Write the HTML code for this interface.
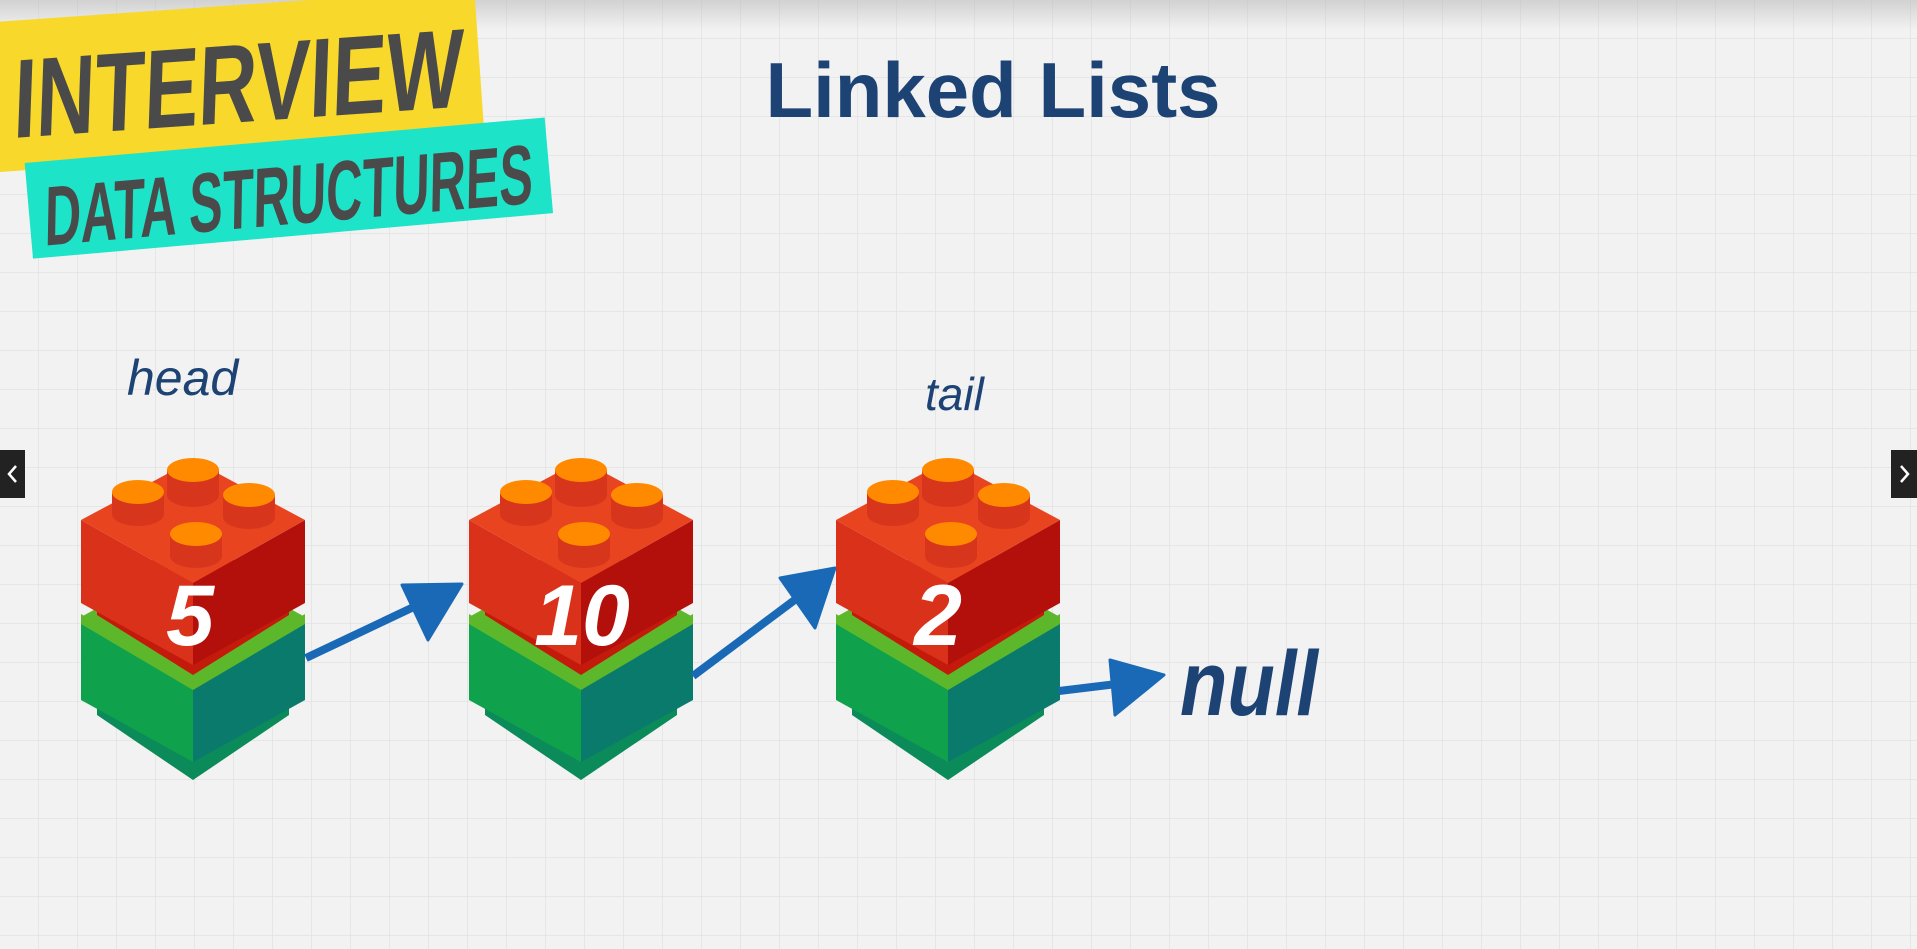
<!DOCTYPE html>
<html><head><meta charset="utf-8"><style>
html,body{margin:0;padding:0;width:1917px;height:949px;overflow:hidden;background:#f1f1f1}
</style></head><body>
<svg width="1917" height="949" viewBox="0 0 1917 949" xmlns="http://www.w3.org/2000/svg">
<defs>
<pattern id="g" width="39" height="39" patternUnits="userSpaceOnUse">
<rect width="39" height="39" fill="#f2f2f2"/>
<path d="M39 0V39H0" fill="none" stroke="#e2e2e2" stroke-width="1.5"/>
</pattern>
<linearGradient id="top" x1="0" y1="0" x2="0" y2="1"><stop offset="0" stop-color="#bbb" stop-opacity=".6"/><stop offset="1" stop-color="#bbb" stop-opacity="0"/></linearGradient>
<g id="brick">
<polygon points="-96,650 -96,715 0,780 96,715 96,650" fill="#0b8a5a"/>
<polygon points="-112,617 0,683 0,762 -112,700" fill="#10a14c"/>
<polygon points="112,617 0,683 0,762 112,700" fill="#0a7a6c"/>
<polygon points="-112,617 0,555 112,617 0,683" fill="#5cb82a"/>
<polygon points="-112,614 0,680 112,614 112,624 0,690 -112,624" fill="#5cb82a"/>
<polygon points="-96,560 -96,615 0,675 96,615 96,560" fill="#c41a0c"/>
<polygon points="-112,520 0,583 0,665 -112,603" fill="#da321a"/>
<polygon points="112,520 0,583 0,665 112,603" fill="#b3100c"/>
<polygon points="-112,520 0,460 112,520 0,583" fill="#e84420"/>
<g fill="#d8361c"><rect x="-26" y="470" width="52" height="25"/><ellipse cx="0" cy="495" rx="26" ry="12"/></g>
<ellipse cx="0" cy="470" rx="26" ry="12" fill="#ff8a00"/>
<g fill="#d8361c"><rect x="-81" y="492" width="52" height="22"/><ellipse cx="-55" cy="514" rx="26" ry="12"/></g>
<ellipse cx="-55" cy="492" rx="26" ry="12" fill="#ff8a00"/>
<g fill="#d8361c"><rect x="30" y="495" width="52" height="22"/><ellipse cx="56" cy="517" rx="26" ry="12"/></g>
<ellipse cx="56" cy="495" rx="26" ry="12" fill="#ff8a00"/>
<g fill="#d8361c"><rect x="-23" y="534" width="52" height="22"/><ellipse cx="3" cy="556" rx="26" ry="12"/></g>
<ellipse cx="3" cy="534" rx="26" ry="12" fill="#ff8a00"/>
</g>
</defs>
<rect width="1917" height="949" fill="url(#g)"/>
<rect width="1917" height="30" fill="url(#top)"/>

<g transform="rotate(-4 240 80)">
<rect x="-20" y="5" width="500" height="150" fill="#f8d82a"/>
<text x="12" y="122" font-family="'Liberation Sans Narrow','Liberation Sans',sans-serif" font-weight="bold" font-size="112" fill="#4a4a4a" textLength="450" lengthAdjust="spacingAndGlyphs" transform="skewX(-6) translate(10 0)">INTERVIEW</text>
</g>
<g transform="rotate(-5 290 190)">
<rect x="28" y="140" width="522" height="96" fill="#1de3c9"/>
<text x="42" y="224" font-family="'Liberation Sans Narrow','Liberation Sans',sans-serif" font-weight="bold" font-size="84" fill="#4a4a4a" textLength="490" lengthAdjust="spacingAndGlyphs" transform="skewX(-6) translate(22 0)">DATA STRUCTURES</text>
</g>

<text x="993" y="117" text-anchor="middle" font-family="'Liberation Sans',sans-serif" font-weight="bold" font-size="78" fill="#1d4274">Linked Lists</text>
<text x="127" y="395" font-family="'Liberation Sans',sans-serif" font-style="italic" font-size="50" fill="#1d4274">head</text>
<text x="925" y="410" font-family="'Liberation Sans',sans-serif" font-style="italic" font-size="46" fill="#1d4274">tail</text>

<use href="#brick" transform="translate(193 0)"/>
<use href="#brick" transform="translate(581 0)"/>
<use href="#brick" transform="translate(948 0)"/>

<g font-family="'Liberation Sans',sans-serif" font-weight="bold" font-style="italic" font-size="86" fill="#fff" text-anchor="middle">
<text x="190" y="645">5</text>
<text x="582" y="645">10</text>
<text x="938" y="645">2</text>
</g>

<g fill="#1a69b6" stroke="#1a69b6" stroke-linejoin="round">
<line x1="306" y1="658" x2="420" y2="604" stroke-width="8"/>
<polygon points="402,585 462,584 428,640" stroke-width="3"/>
<line x1="693" y1="676" x2="800" y2="596" stroke-width="8"/>
<polygon points="780,578 835,568 815,628" stroke-width="3"/>
<line x1="1059" y1="691" x2="1125" y2="683" stroke-width="8"/>
<polygon points="1110,660 1164,675 1115,715" stroke-width="3"/>
</g>
<text x="1180" y="715" font-family="'Liberation Sans',sans-serif" font-weight="bold" font-style="italic" font-size="92" fill="#1d4274" textLength="138" lengthAdjust="spacingAndGlyphs">null</text>

<rect x="0" y="450" width="25" height="48" fill="#222"/>
<path d="M16 466 L9 474 L16 482" fill="none" stroke="#fff" stroke-width="2.5"/>
<rect x="1891" y="450" width="26" height="48" fill="#222"/>
<path d="M1901 466 L1908 474 L1901 482" fill="none" stroke="#fff" stroke-width="2.5"/>
</svg>
</body></html>
